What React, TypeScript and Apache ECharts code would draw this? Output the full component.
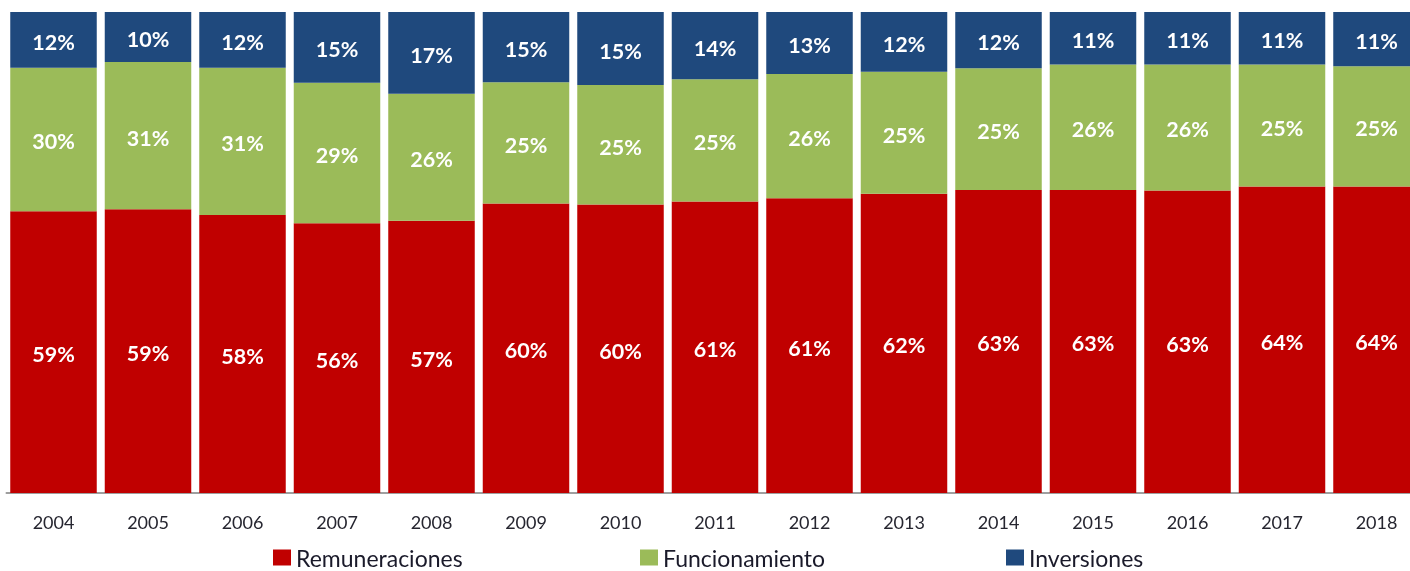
import React, { useEffect, useRef } from "react";
import * as echarts from "echarts";

const years = ["2004", "2005", "2006", "2007", "2008", "2009", "2010", "2011", "2012", "2013", "2014", "2015", "2016", "2017", "2018"];
const remuneraciones = [58.6, 59.0, 57.8, 56.1, 56.6, 60.2, 60.0, 60.6, 61.3, 62.2, 63.0, 63.0, 62.9, 63.7, 63.7];
const funcionamiento = [29.8, 30.6, 30.6, 29.2, 26.4, 25.2, 24.8, 25.4, 25.8, 25.4, 25.3, 26.1, 26.2, 25.4, 25.0];
const inversiones = [11.6, 10.4, 11.6, 14.7, 17.0, 14.6, 15.2, 14.0, 12.9, 12.4, 11.7, 10.9, 10.9, 10.9, 11.3];

const seriesNames = ["Remuneraciones", "Funcionamiento", "Inversiones"];
const colors = ["#C00000", "#9BBB59", "#1F497D"];

const FONT = "Lato, 'Open Sans', sans-serif";

export default function App() {
  const ref = useRef<HTMLDivElement>(null);
  useEffect(() => {
    if (!ref.current) return;
    const chart = echarts.init(ref.current, null, { renderer: "svg" });
    const dataSets = [remuneraciones, funcionamiento, inversiones];
    const legendLefts = [273, 640, 1006];
    chart.setOption({
      animation: false,
      textStyle: { fontFamily: FONT },
      grid: { left: 6.25, top: 12, width: 1417.5, height: 481, containLabel: false },
      legend: seriesNames.map((n, i) => ({
        data: [n],
        left: legendLefts[i],
        top: 546,
        padding: 0,
        itemWidth: 18,
        itemHeight: 16,
        itemGap: 6,
        icon: "rect",
        textStyle: { fontFamily: FONT, fontSize: 23, lineHeight: 22, color: "#1a1a2a" },
      })),
      xAxis: {
        type: "category",
        data: years,
        axisTick: { show: false },
        axisLine: { lineStyle: { color: "#7f7f7f", width: 1.5 } },
        axisLabel: { fontFamily: FONT, fontSize: 18, color: "#262630", margin: 20 },
      },
      yAxis: { type: "value", min: 0, max: 100, show: false, splitLine: { show: false } },
      series: seriesNames.map((n, i) => ({
        name: n,
        type: "bar",
        stack: "total",
        barWidth: 86.5,
        itemStyle: { color: colors[i] },
        label: {
          show: true,
          position: "inside",
          offset: [0, 2],
          formatter: (p: any) => Math.round(p.value) + "%",
          color: "#ffffff",
          fontFamily: FONT,
          fontWeight: "bold",
          fontSize: 21.5,
        },
        data: dataSets[i],
      })),
    });
    return () => chart.dispose();
  }, []);
  return (
    <div style={{ position: "fixed", left: 0, top: 0, width: 1410, height: 571, overflow: "hidden" }}>
      <div ref={ref} style={{ width: 1424, height: 571 }} />
    </div>
  );
}
